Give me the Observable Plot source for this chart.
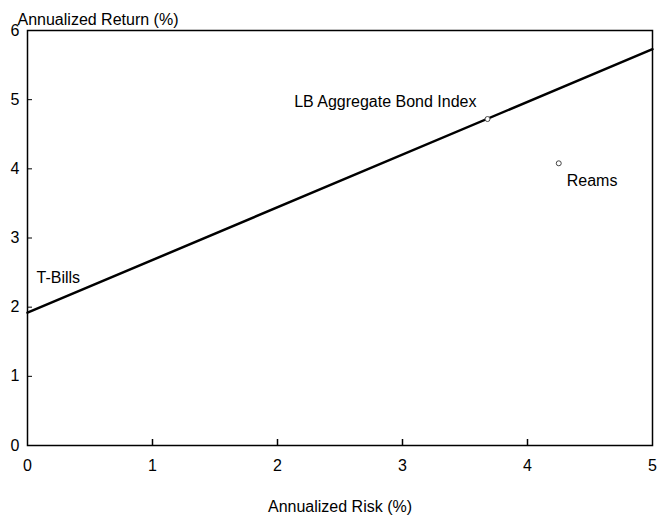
<!DOCTYPE html>
<html>
<head>
<meta charset="utf-8">
<script src="https://cdn.jsdelivr.net/npm/d3@7"></script>
<script src="https://cdn.jsdelivr.net/npm/@observablehq/plot@0.6"></script>
<style>
  html, body { margin: 0; padding: 0; background: #fff; }
  svg { font-family: "Liberation Sans", Arial, sans-serif; }
</style>
</head>
<body>
<div id="chart"></div>
<script>
// Axis ticks
const xTicks = [0, 1, 2, 3, 4, 5];
const yTicks = [0, 1, 2, 3, 4, 5, 6];

// Capital market line (risk, return)
const lineRisk = [0, 5];
const lineReturn = [1.92, 5.73];

// Labeled portfolios
const names = ["T-Bills", "LB Aggregate Bond Index", "Reams"];
const risk = [0, 3.68, 4.25];
const ret = [1.92, 4.72, 4.08];

const lineData = lineRisk.map((x, i) => ({x, y: lineReturn[i]}));
const pts = names.map((name, i) => ({name, x: risk[i], y: ret[i]}));

const W = 662, H = 521, mL = 27, mR = 10, mT = 30, mB = 76;
const innerW = W - mL - mR, innerH = H - mT - mB;
const FS = 16;

const chart = Plot.plot({
  width: W,
  height: H,
  marginLeft: mL,
  marginRight: mR,
  marginTop: mT,
  marginBottom: mB,
  style: {fontSize: FS + "px", color: "#000", background: "#fff"},
  x: {domain: [0, 5]},
  y: {domain: [0, 6]},
  marks: [
    Plot.frame({stroke: "#000", strokeWidth: 1.5}),
    Plot.axisX({ticks: xTicks, tickFormat: "d", tickSize: 0, tickPadding: 14, label: null, fontSize: FS}),
    Plot.axisY({ticks: yTicks, tickFormat: "d", tickSize: 0, tickPadding: 8, label: null, fontSize: FS}),
    Plot.tickX(xTicks.slice(1, -1), {x: d => d, insetTop: innerH - 6, stroke: "#000", strokeWidth: 1.5}),
    Plot.tickY(yTicks.slice(1, -1), {y: d => d, insetRight: innerW - 5, stroke: "#000", strokeWidth: 1}),
    Plot.line(lineData, {x: "x", y: "y", stroke: "#000", strokeWidth: 2.5}),
    Plot.dot(pts.slice(1), {x: "x", y: "y", r: 2.5, stroke: "#444", strokeWidth: 1, fill: "#fff"}),
    Plot.text([pts[0]], {x: "x", y: "y", text: "name", textAnchor: "start", dx: 9, dy: -35, fontSize: FS}),
    Plot.text([pts[1]], {x: "x", y: "y", text: "name", textAnchor: "end", dx: -11, dy: -17, fontSize: FS}),
    Plot.text([pts[2]], {x: "x", y: "y", text: "name", textAnchor: "start", dx: 8, dy: 18, fontSize: FS}),
    Plot.text(["Annualized Return (%)"], {frameAnchor: "top-left", text: d => d, textAnchor: "start", dx: -10, dy: -17, fontSize: FS}),
    Plot.text(["Annualized Risk (%)"], {frameAnchor: "bottom", text: d => d, dy: 66, fontSize: FS})
  ]
});
document.getElementById("chart").appendChild(chart);
</script>
</body>
</html>
